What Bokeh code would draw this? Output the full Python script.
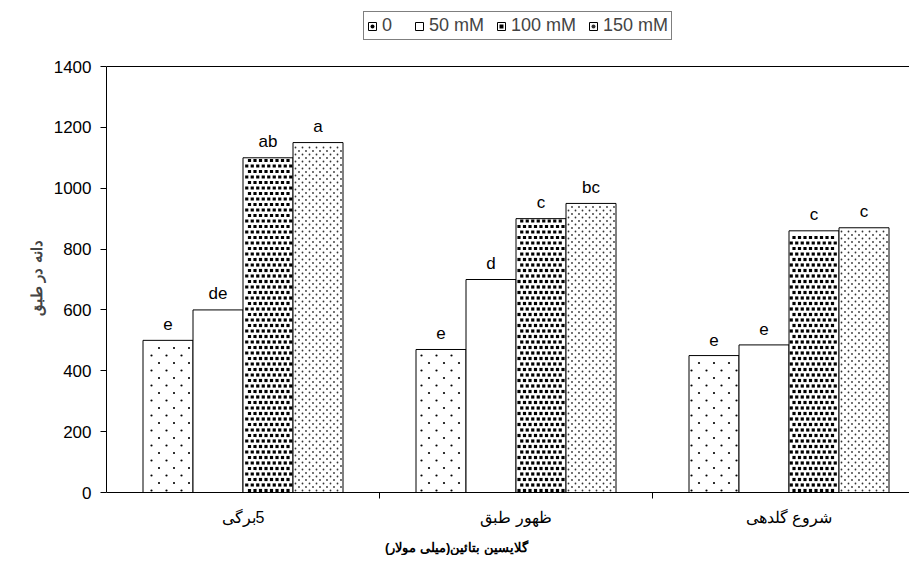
import numpy as np
from bokeh.plotting import figure
from bokeh.models import Range1d, FixedTicker, Legend, LegendItem, Span
from bokeh.core.properties import value
from bokeh.embed import file_html
from bokeh.resources import INLINE

# ---- data ----
categories = ["\u200f5برگی", "ظهور طبق", "شروع گلدهی"]
series_names = ["0", "50 mM", "100 mM", "150 mM"]
values_0 = [500, 470, 450]
values_50 = [600, 700, 485]
values_100 = [1100, 900, 860]
values_150 = [1150, 950, 870]
letters_0 = ["e", "e", "e"]
letters_50 = ["de", "d", "e"]
letters_100 = ["ab", "c", "c"]
letters_150 = ["a", "bc", "c"]
y_ticks = [0, 200, 400, 600, 800, 1000, 1200, 1400]
y_max = 1400
y_title = "دانه در طبق"
x_title = "\u200fگلایسین بتائین(میلی مولار)\u200f"

FONT = "Liberation Sans"

# ---- layout (pixels) ----
W, H = 909, 555
BL = 106
axis_top_px = 66
axis_zero_px = 492
cat_px = 273.0
bar_px = 50.0
k = (axis_zero_px - axis_top_px) / y_max   # px per unit
frame_w = W - BL

p = figure(width=W, height=H, output_backend="svg", toolbar_location=None,
           x_range=Range1d(0, frame_w / cat_px),
           y_range=Range1d(-(H - axis_zero_px) / k, y_max + axis_top_px / k),
           min_border_left=BL, min_border_right=0, min_border_top=0, min_border_bottom=0)
p.outline_line_color = None
p.xgrid.visible = False
p.ygrid.visible = False
p.background_fill_color = "white"
p.border_fill_color = "white"

bw = bar_px / cat_px
offsets = [-1.5 * bw, -0.5 * bw, 0.5 * bw, 1.5 * bw]
all_vals = [values_0, values_50, values_100, values_150]
all_letters = [letters_0, letters_50, letters_100, letters_150]

# fill textures: (row spacing px, column spacing px, row shift px, marker, size px, colour)
textures = [
    (7.5, 15.0, 7.5, "circle", 2.2, "black"),
    None,
    (5.5, 5.5, 2.75, "square", 3.2, "black"),
    (3.5, 7.0, 3.5, "circle", 1.8, "#333333"),
]


def texture_points(x_centers, tops, spec):
    row_dy, col_dx, shift, _, _, _ = spec
    xs, ys = [], []
    for xc, top in zip(x_centers, tops):
        left = xc * cat_px - bar_px / 2 + 1.5
        right = xc * cat_px + bar_px / 2 - 1.5
        top_px = top * k - 1.5
        r = 0
        py = 2.0
        while py <= top_px:
            off = shift if r % 2 else 0.0
            m0 = int(np.floor((left - off) / col_dx))
            for m in range(m0, m0 + int(bar_px / col_dx) + 3):
                px = off + m * col_dx
                if left <= px <= right:
                    xs.append(px / cat_px)
                    ys.append(py / k)
            r += 1
            py += row_dy
    return xs, ys


legend_items = []
for s in range(4):
    xs = [i + 0.5 + offsets[s] for i in range(len(categories))]
    r = p.vbar(x=xs, top=all_vals[s], width=bw, bottom=0, fill_color="white",
               line_color="black", line_width=1)
    rends = [r]
    if textures[s] is not None:
        tx, ty = texture_points(xs, all_vals[s], textures[s])
        _, _, _, marker, size, color = textures[s]
        rt = p.scatter(x=tx, y=ty, marker=marker, size=size, fill_color=color,
                       line_color=None)
        rends.append(rt)
    legend_items.append(LegendItem(label=series_names[s], renderers=rends))
    p.text(x=xs, y=all_vals[s], text=all_letters[s], text_align="center",
           text_baseline="alphabetic", y_offset=-16, text_font=value(FONT),
           text_font_size="17px", text_color="black")

# ---- y axis ----
ya = p.yaxis[0]
ya.ticker = FixedTicker(ticks=y_ticks)
ya.bounds = (0, y_max)
ya.major_tick_out = 6
ya.major_tick_in = 0
ya.minor_tick_out = 0
ya.major_label_standoff = 9
ya.major_label_text_font = FONT
ya.major_label_text_font_size = "17px"
ya.major_label_text_color = "black"
ya.axis_line_color = "black"
ya.major_tick_line_color = "black"
ya.axis_label = y_title
ya.axis_label_text_font = FONT
ya.axis_label_text_font_style = "bold"
ya.axis_label_text_font_size = "15px"
ya.axis_label_standoff = 6

# ---- x axis (fixed at y = 0) ----
xa = p.xaxis[0]
xa.fixed_location = 0
centers = [i + 0.5 for i in range(len(categories))]
bounds = [i for i in range(1, len(categories))]
xa.ticker = FixedTicker(ticks=centers, minor_ticks=bounds)
xa.major_label_overrides = {c: lab for c, lab in zip(centers, categories)}
xa.major_tick_out = 0
xa.major_tick_in = 0
xa.minor_tick_out = 6
xa.minor_tick_in = 0
xa.minor_tick_line_color = "black"
xa.axis_line_color = "black"
xa.major_label_standoff = 10
xa.major_label_text_font = FONT
xa.major_label_text_font_size = "16px"
xa.major_label_text_color = "black"

# top line at 1400
p.add_layout(Span(location=y_max, dimension="width", line_color="black", line_width=1))

# x title
title_cx_px, title_cy_px = 456, 547
p.text(x=[(title_cx_px - BL) / cat_px], y=[-(title_cy_px - axis_zero_px) / k], text=[x_title],
       text_align="center", text_baseline="middle", text_font=value(FONT),
       text_font_style="bold", text_font_size="13px", text_color="black")

# ---- legend ----
legend_left_px, legend_bottom_px = 363, 40
legend = Legend(items=legend_items, orientation="horizontal",
                location=(legend_left_px - BL, H - legend_bottom_px))
legend.border_line_color = "black"
legend.border_line_width = 1
legend.padding = 3
legend.spacing = 12
legend.margin = 0
legend.glyph_width = 10
legend.glyph_height = 10
legend.label_standoff = 5
legend.label_text_font = FONT
legend.label_text_font_size = "18px"
legend.background_fill_color = "white"
legend.background_fill_alpha = 1
p.add_layout(legend)

open("out.html", "w").write(file_html(p, INLINE))
